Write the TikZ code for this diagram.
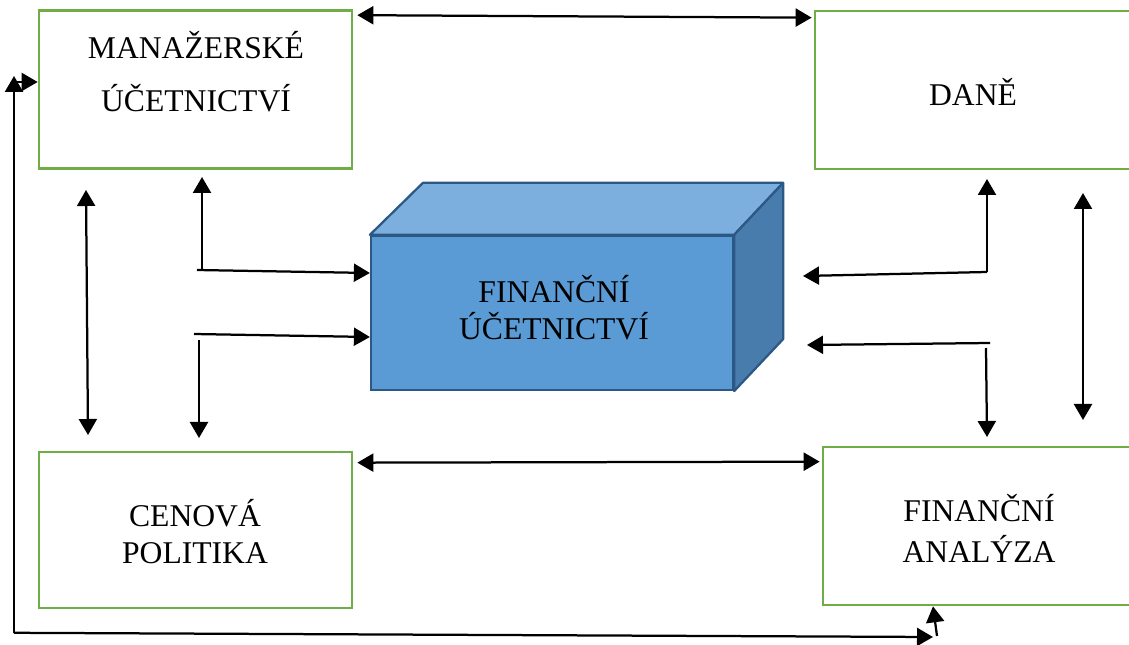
\documentclass[tikz,border=0pt]{standalone}
\usepackage{fontspec}
\setmainfont{Liberation Serif}
\usetikzlibrary{arrows.meta, positioning, calc}
\definecolor{boxgreen}{RGB}{112, 173, 71}
\definecolor{cubefront}{RGB}{91, 155, 213}
\definecolor{cubetop}{RGB}{125, 175, 222}
\definecolor{cubeside}{RGB}{72, 124, 172}
\definecolor{cubeline}{RGB}{44, 88, 134}
\tikzstyle{area} = [rectangle, draw=boxgreen, line width=1.9pt, fill=white,
                    minimum width=7.825cm, minimum height=3.95cm]
\tikzstyle{label} = [font=\fontsize{22.5}{26.4}\selectfont, align=center]
\tikzstyle{arrow} = [-{Triangle[length=0.4cm, width=0.45cm]}, line width=1.6pt, black]
\tikzstyle{twoway} = [{Triangle[length=0.4cm, width=0.45cm]}-{Triangle[length=0.4cm, width=0.45cm]}, line width=1.6pt, black]

\begin{document}
\begin{tikzpicture}
\useasboundingbox (0,0) rectangle (28.225,16.1);
\clip (0,0) rectangle (28.225,16.1);

% Areas
\node[area] (man) at (4.8875, 13.8625) {};
\node[area, minimum width=8.6cm] (dane) at (24.675, 13.85) {};
\node[area, minimum height=3.9cm] (cen) at (4.8875, 2.85) {};
\node[area, minimum width=8.6cm] (fa) at (24.875, 2.95) {};

\node[label] (mantext) at (4.9, 14.3) {MANAŽERSKÉ\\[0.4cm]ÚČETNICTVÍ};
\node[label] (danetext) at (24.325, 13.8) {DANĚ};
\node[label] (centext) at (4.875, 2.8) {CENOVÁ\\POLITIKA};
\node[label] (fatext) at (24.475, 2.9) {FINANČNÍ\\[0.1cm]ANALÝZA};

% Financial accounting block
\node[rectangle, draw=cubeline, line width=1.6pt, fill=cubefront,
      minimum width=9.05cm, minimum height=3.85cm] (fin) at (13.8, 8.275) {};
\filldraw[fill=cubetop, draw=cubeline, line width=1.6pt, line join=round]
  (fin.north west) -- ++(1.325,1.3) -- ($(fin.north east)+(1.225,1.3)$) -- (fin.north east) -- cycle;
\filldraw[fill=cubeside, draw=cubeline, line width=1.6pt, line join=round]
  (fin.north east) -- ++(1.225,1.3) -- ($(fin.south east)+(1.225,1.3)$) -- (fin.south east) -- cycle;
\node[label] (fintext) at (13.85, 8.4) {FINANČNÍ\\ÚČETNICTVÍ};

% Corner points
\coordinate (manc) at (5.05, 9.35);
\coordinate (cenc) at (4.975, 7.6);
\coordinate (danec) at (24.675, 9.3);
\coordinate (fac) at (24.65, 7.4);
\coordinate (loopc) at (0.35, 0.28);

% Arrows
\draw[twoway] ($(man.north east)+(0.1,-0.15)$) -- ($(dane.north west)+(-0.05,-0.2)$);
\draw[twoway] ($(cen.north east)+(0.1,-0.3)$) -- ($(fa.north west)+(-0.05,-0.4)$);
\draw[twoway] (2.15, 11.35) -- (2.2, 5.225);
\draw[twoway] (27.075, 11.275) -- (27.075, 5.6);

\draw[arrow] (manc) -- (5.05, 11.675);
\draw[arrow] (4.925, 9.35) -- (fin.west |- 0,9.275);
\draw[arrow] (4.85, 7.75) -- (fin.west |- 0,7.675);
\draw[arrow] (cenc) -- (4.975, 5.15);

\draw[arrow] (danec) -- (24.675, 11.625);
\draw[arrow] (danec) -- (20.075, 9.2);
\draw[arrow] (24.75, 7.525) -- (20.175, 7.475);
\draw[arrow] (fac) -- (24.675, 5.175);

\draw[arrow] (loopc) -- (0.35, 14.2);
\draw[arrow] (0.425, 14.05) -- (man.west |- 0,14.05);
\draw[arrow] (loopc) -- (23.325, 0.175);
\draw[arrow] (23.425, 0.2) -- (fa.south -| 23.325,0);

\end{tikzpicture}
\end{document}
